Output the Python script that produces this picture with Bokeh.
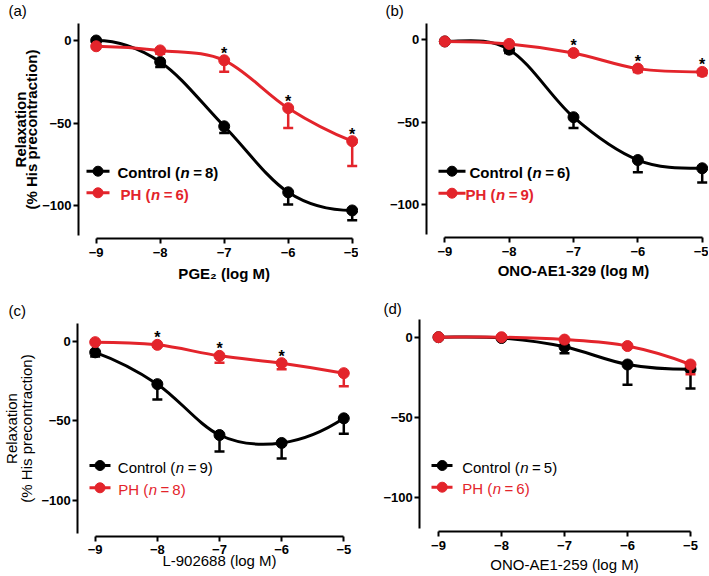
import math
from bokeh.plotting import figure
from bokeh.models import Label, FixedTicker, Range1d, ColumnDataSource
from bokeh.layouts import row, column
from bokeh.embed import file_html
from bokeh.resources import INLINE
from bokeh.core.properties import value

# ---------------- data ----------------
doses = [-9, -8, -7, -6, -5]
x_ticks = [-9, -8, -7, -6, -5]
x_tick_labels = ["\u22129", "\u22128", "\u22127", "\u22126", "\u22125"]
y_ticks = [0, -50, -100]
y_tick_labels = ["0", "\u221250", "\u2212100"]

a_ctrl_mean = [0, -13, -52, -92, -103]
a_ctrl_sem = [1, 3, 4, 7.4, 6]
a_ph_mean = [-3.5, -6, -12, -41, -61]
a_ph_sem = [1, 2, 7, 12, 15]
a_stars = [-7, -6, -5]
a_n = (8, 6)

b_ctrl_mean = [-1, -6, -47, -73, -78]
b_ctrl_sem = [1, 2, 6.5, 7.4, 8.6]
b_ph_mean = [-1, -2.5, -8, -17.5, -19.5]
b_ph_sem = [1, 1, 1.5, 2, 2]
b_stars = [-7, -6, -5]
b_n = (6, 9)

c_ctrl_mean = [-7, -27, -59, -64, -48.5]
c_ctrl_sem = [2.7, 9.7, 10.3, 9.8, 9.7]
c_ph_mean = [-0.6, -2.3, -9.2, -13.8, -20.1]
c_ph_sem = [0.5, 1, 4.4, 3.8, 8.2]
c_stars = [-8, -7, -6]
c_n = (9, 8)

d_ctrl_mean = [0, -0.5, -6, -17, -20]
d_ctrl_sem = [0.5, 0.5, 4, 12.6, 12]
d_ph_mean = [0, 0, -1.5, -5.5, -17]
d_ph_sem = [0.3, 0.3, 1, 1, 6]
d_stars = []
d_n = (5, 6)

x_titles = ["PGE\u2082 (log M)", "ONO-AE1-329 (log M)", "L-902688 (log M)", "ONO-AE1-259 (log M)"]
panel_letters = ["(a)", "(b)", "(c)", "(d)"]

BLACK = "#000000"
RED = "#e3242b"
FONT = "Liberation Sans"
TXT_SHIFT = 4  # baseline correction in pixels

W_REG = {'C': .722, 'o': .556, 'n': .556, 't': .278, 'r': .333, 'l': .222, ' ': .278, '(': .333, 'P': .667, 'H': .722}
W_BOLD = {'C': .722, 'o': .611, 'n': .611, 't': .333, 'r': .389, 'l': .278, ' ': .278, '(': .333, 'P': .667, 'H': .722}


def text_width(s, size, bold):
    tab = W_BOLD if bold else W_REG
    return sum(tab.get(ch, .556) for ch in s) * size


def tangents(xs, ys):
    n = len(xs)
    d = [(ys[i + 1] - ys[i]) / (xs[i + 1] - xs[i]) for i in range(n - 1)]
    m = [0.0] * n
    for i in range(1, n - 1):
        m[i] = (ys[i + 1] - ys[i - 1]) / (xs[i + 1] - xs[i - 1])
    m0 = 2 * d[0] - m[1]
    if d[0] == 0 or m0 * d[0] < 0:
        m0 = 0.0
    mn = 2 * d[-1] - m[-2]
    if d[-1] == 0 or mn * d[-1] < 0:
        mn = 0.0
    m[0] = m0
    m[-1] = mn
    return m


def bezier_source(xs, ys):
    m = tangents(xs, ys)
    data = dict(x0=[], y0=[], x1=[], y1=[], cx0=[], cy0=[], cx1=[], cy1=[])
    for i in range(len(xs) - 1):
        h = xs[i + 1] - xs[i]
        data['x0'].append(xs[i]); data['y0'].append(ys[i])
        data['x1'].append(xs[i + 1]); data['y1'].append(ys[i + 1])
        data['cx0'].append(xs[i] + h / 3); data['cy0'].append(ys[i] + m[i] * h / 3)
        data['cx1'].append(xs[i + 1] - h / 3); data['cy1'].append(ys[i + 1] - m[i + 1] * h / 3)
    return ColumnDataSource(data)


def make_panel(spec, ctrl_mean, ctrl_sem, ph_mean, ph_sem, stars, ns, letter, xtitle, bold, ytitle):
    OX, OY, W, H = spec['OX'], spec['OY'], spec['W'], spec['H']
    sx, sy, x9, y0 = spec['sx'], spec['sy'], spec['x9'], spec['y0']
    x_start = -9 - (x9 - OX) / sx
    x_end = -9 + (OX + W - x9) / sx
    y_end = (y0 - OY) / sy
    y_start = -(OY + H - y0) / sy

    def px2x(X):
        return -9 + (X - x9) / sx

    def px2y(Y):
        return -(Y - y0) / sy

    p = figure(width=W, height=H, x_range=Range1d(x_start, x_end), y_range=Range1d(y_start, y_end),
               min_border_left=0, min_border_right=0, min_border_top=0, min_border_bottom=0,
               toolbar_location=None, output_backend="svg")
    p.outline_line_color = None
    p.grid.visible = False
    p.background_fill_color = "white"
    p.border_fill_color = "white"

    for ax in (p.xaxis, p.yaxis):
        ax.axis_line_width = 2
        ax.major_tick_line_width = 2
        ax.major_tick_in = 0
        ax.major_tick_out = 5
        ax.minor_tick_line_color = None
        ax.major_label_text_font = FONT
        ax.major_label_text_font_style = "bold"
        ax.major_label_text_font_size = "13px"
        ax.major_label_text_color = "black"
        ax.axis_line_color = "black"
        ax.major_tick_line_color = "black"
    p.xaxis.ticker = FixedTicker(ticks=x_ticks)
    p.xaxis.major_label_overrides = {float(t): l for t, l in zip(x_ticks, x_tick_labels)}
    p.xaxis.bounds = (-9, -5)
    p.xaxis.major_label_standoff = 4
    p.xaxis.fixed_location = px2y(spec['FB'])
    p.yaxis.ticker = FixedTicker(ticks=y_ticks)
    p.yaxis.major_label_overrides = {float(t): l for t, l in zip(y_ticks, y_tick_labels)}
    p.yaxis.bounds = (px2y(spec['ybot']), px2y(spec['ytop']))
    p.yaxis.major_label_standoff = 2
    p.yaxis.fixed_location = px2x(spec['FL'])

    def lab(X, Y, text, size="15px", style="normal", color="black", align="left", angle=0.0):
        if angle:
            X = X - TXT_SHIFT
        else:
            Y = Y - TXT_SHIFT
        p.add_layout(Label(x=X - OX, y=OY + H - Y, x_units="screen", y_units="screen", text=text,
                           text_font=FONT, text_font_size=size, text_font_style=style,
                           text_color=color, text_align=align, text_baseline="alphabetic", angle=angle))

    wstyle = "bold" if bold else "normal"

    # series
    for mean, sem, col in ((ctrl_mean, ctrl_sem, BLACK), (ph_mean, ph_sem, RED)):
        low = [m - s for m, s in zip(mean, sem)]
        p.segment(x0=doses, y0=mean, x1=doses, y1=low, line_color=col, line_width=2.5)
        p.scatter(x=doses, y=low, marker="dash", size=10, line_color=col, line_width=2.5)
        p.bezier(source=bezier_source(doses, mean), x0='x0', y0='y0', x1='x1', y1='y1',
                 cx0='cx0', cy0='cy0', cx1='cx1', cy1='cy1', line_color=col, line_width=3,
                 line_cap="round")
        p.scatter(x=doses, y=mean, marker="circle", size=11, fill_color=col, line_color=col)

    # significance stars
    if stars:
        sy_vals = [ph_mean[doses.index(s)] for s in stars]
        p.text(x=stars, y=sy_vals, text=["*"] * len(stars), text_font=value(FONT),
               text_font_style="bold", text_font_size="16px", text_align="center",
               text_baseline="alphabetic", y_offset=-7, text_color="black")

    # legend
    lg = spec['legend']
    names = ["Control", "PH"]
    cols = [BLACK, RED]
    for k in range(2):
        ry = lg['rows'][k]
        p.segment(x0=[px2x(lg['line'][0])], y0=[px2y(ry)], x1=[px2x(lg['line'][1])], y1=[px2y(ry)],
                  line_color=cols[k], line_width=3)
        p.scatter(x=[px2x(lg['marker'])], y=[px2y(ry)], size=10, fill_color=cols[k], line_color=cols[k])
        tx = lg['text'][k]
        base = ry + 5.5
        part1 = names[k] + " ("
        w1 = text_width(part1, 15, bold)
        lab(tx, base, part1, style=wstyle, color=cols[k])
        lab(tx + w1 + 0.5, base, "n", style=("bold italic" if bold else "italic"), color=cols[k])
        wn = (0.611 if bold else 0.556) * 15
        lab(tx + w1 + wn + 1.0, base, "\u2009=\u2009" + str(ns[k]) + ")", style=wstyle, color=cols[k])

    # x title
    lab(x9 + 2 * sx, spec['xt_base'], xtitle, style=wstyle, align="center")
    # panel letter
    lab(spec['letter'][0], spec['letter'][1], letter, size="15px")
    # y title
    if ytitle:
        yc = spec['yt_center']
        lab(spec['yt_base'][0], yc, "Relaxation", style=wstyle, align="center", angle=math.pi / 2)
        lab(spec['yt_base'][1], yc, "(% His precontraction)", style=wstyle, align="center", angle=math.pi / 2)
    return p


A = dict(OX=0, OY=0, W=358, H=288, x9=95.7, sx=64.0, y0=40.0, sy=1.65, FL=78, FB=238, ytop=22.7, ybot=235,
         legend=dict(line=(86, 109), marker=97.5, rows=(170.7, 192.3), text=(117, 120)),
         xt_base=277, letter=(8, 14), yt_base=(24, 35), yt_center=129)
B = dict(OX=358, OY=0, W=350, H=288, x9=444.3, sx=64.35, y0=39.3, sy=1.647, FL=425.7, FB=237.3, ytop=22.7, ybot=234,
         legend=dict(line=(438, 465), marker=451.5, rows=(170.7, 192.7), text=(469, 465)),
         xt_base=274, letter=(385, 14))
C = dict(OX=0, OY=288, W=358, H=287, x9=94.7, sx=62.15, y0=340.7, sy=1.59, FL=77.3, FB=535.7, ytop=323.3, ybot=533,
         legend=dict(line=(89, 110), marker=99.5, rows=(465, 487.3), text=(117.3, 117.7)),
         xt_base=563.5, letter=(8, 314), yt_base=(15, 30), yt_center=428)
D = dict(OX=358, OY=288, W=350, H=287, x9=438.0, sx=63.0, y0=336.7, sy=1.606, FL=419.3, FB=531, ytop=319.3, ybot=528.3,
         legend=dict(line=(431, 452), marker=441.7, rows=(465, 486.7), text=(461.7, 461.7)),
         xt_base=567.5, letter=(383, 312))

pa = make_panel(A, a_ctrl_mean, a_ctrl_sem, a_ph_mean, a_ph_sem, a_stars, a_n, panel_letters[0], x_titles[0], True, True)
pb = make_panel(B, b_ctrl_mean, b_ctrl_sem, b_ph_mean, b_ph_sem, b_stars, b_n, panel_letters[1], x_titles[1], True, False)
pc = make_panel(C, c_ctrl_mean, c_ctrl_sem, c_ph_mean, c_ph_sem, c_stars, c_n, panel_letters[2], x_titles[2], False, True)
pd = make_panel(D, d_ctrl_mean, d_ctrl_sem, d_ph_mean, d_ph_sem, d_stars, d_n, panel_letters[3], x_titles[3], False, False)

layout = column(row(pa, pb), row(pc, pd))
open("out.html", "w").write(file_html(layout, INLINE))
